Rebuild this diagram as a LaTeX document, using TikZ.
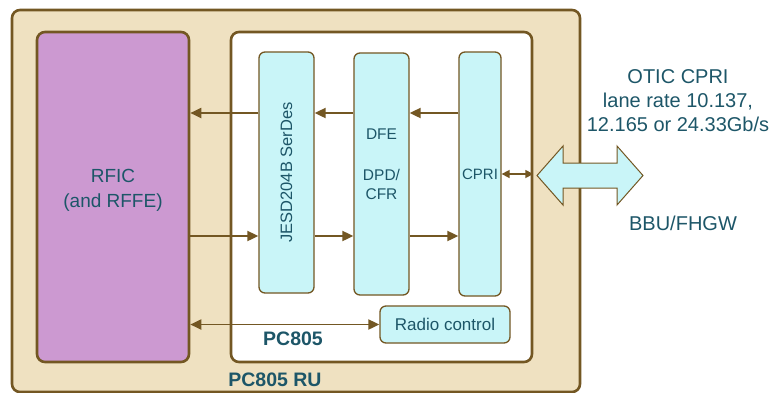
\documentclass[tikz,border=0pt]{standalone}
\usepackage{fontspec}
\setmainfont{Liberation Sans}
\usepackage{xcolor}
\usepackage{tikz}
\usetikzlibrary{positioning,arrows.meta}

\definecolor{rubeige}{HTML}{EFE1C1}
\definecolor{rubrown}{HTML}{735723}
\definecolor{rficpurple}{HTML}{CC99D1}
\definecolor{blkcyan}{HTML}{C9F5F8}
\definecolor{txtteal}{HTML}{1D5668}

\begin{document}
\begin{tikzpicture}[
    x=1pt, y=-1pt,
    frame/.style={rectangle, draw=rubrown, line width=2.6pt, rounded corners=8pt, inner sep=0pt},
    blk/.style={rectangle, draw=rubrown, line width=1.3pt, fill=blkcyan, rounded corners=6pt, text=txtteal, align=center, inner sep=0pt, font=\fontsize{15}{19}\selectfont},
    lbl/.style={text=txtteal, align=center, font=\fontsize{20}{24}\selectfont},
    boldlbl/.style={text=txtteal, font=\fontsize{19.5}{23}\selectfont\bfseries},
    arr/.style={-{Triangle[length=11pt,width=10pt]}, draw=rubrown, line width=1.9pt},
    biarr/.style={{Triangle[length=11pt,width=10pt]}-{Triangle[length=11pt,width=10pt]}, draw=rubrown, line width=1.9pt},
    smallbiarr/.style={{Triangle[length=8pt,width=8pt]}-{Triangle[length=8pt,width=8pt]}, draw=rubrown, line width=1.6pt}
]
    \useasboundingbox (0,0) rectangle (776,392);

    % Radio unit and chip frames
    \node[frame, fill=rubeige, minimum width=568pt, minimum height=382pt] (ru) at (296,201) {};
    \node[frame, fill=rficpurple, minimum width=152pt, minimum height=330pt] (rfic) at (113,197) {};
    \node[frame, fill=white, minimum width=301pt, minimum height=330pt] (pc805) at (381.5,197) {};

    % Blocks inside PC805
    \node[blk, minimum width=55pt, minimum height=241pt, font=\fontsize{16.5}{19}\selectfont] (jesd) at (286.5,172.5) {\rotatebox{90}{JESD204B SerDes}};
    \node[blk, minimum width=55pt, minimum height=242pt] (dfe) at (381.5,174) {};
    \node[blk, minimum width=42pt, minimum height=244pt] (cpri) at (480,174) {CPRI};
    \node[blk, minimum width=130pt, minimum height=37pt, font=\fontsize{17}{19}\selectfont] (radio) at (445,324.5) {Radio control};

    % Box texts
    \node[lbl, font=\fontsize{19}{25}\selectfont, yshift=7pt] (rfictxt) at (rfic) {RFIC\\(and RFFE)};
    \node[text=txtteal, align=center, font=\fontsize{15.5}{19}\selectfont, yshift=10pt] (dfetxt) at (dfe) {DFE\\[22pt]DPD/\\CFR};

    % Data paths
    \coordinate (uprow) at (0,113);
    \coordinate (dnrow) at (0,236);
    \draw[arr] (jesd.west |- uprow) -- (rfic.east |- uprow);
    \draw[arr] (dfe.west |- uprow) -- (jesd.east |- uprow);
    \draw[arr] (cpri.west |- uprow) -- (dfe.east |- uprow);
    \draw[arr] (rfic.east |- dnrow) -- (jesd.west |- dnrow);
    \draw[arr] (jesd.east |- dnrow) -- (dfe.west |- dnrow);
    \draw[arr] (dfe.east |- dnrow) -- (cpri.west |- dnrow);
    \draw[biarr] (rfic.east |- radio.west) -- (radio.west);
    \draw[smallbiarr] (cpri.east) -- (cpri.east -| pc805.east);

    % Fronthaul link
    \draw[draw=rubrown, line width=1pt, fill=blkcyan] (537,175.5) -- (563,146) -- (563,163) -- (617,163) -- (617,146) -- (643,175.5)
        -- (617,205) -- (617,188) -- (563,188) -- (563,205) -- cycle;

    % Labels
    \node[lbl] (rate) at (678,101) {OTIC CPRI\\lane rate 10.137,\\12.165 or 24.33Gb/s};
    \node[lbl] (bbu) at (683,223) {BBU/FHGW};
    \node[boldlbl] (chiplbl) at (293,339) {PC805};
    \node[boldlbl] (rulbl) at (275,380) {PC805 RU};
\end{tikzpicture}
\end{document}
